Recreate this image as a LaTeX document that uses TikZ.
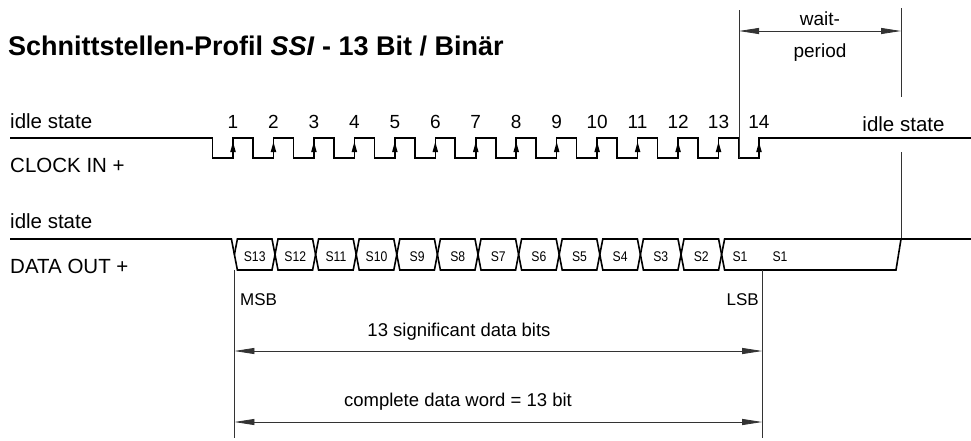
\documentclass[tikz,border=0pt]{standalone}
\usepackage{fontspec}
\setmainfont{Liberation Sans}
\usetikzlibrary{arrows.meta}
\begin{document}
\begin{tikzpicture}[x=1pt,y=-1pt,
  sig/.style={line width=1.6pt, line join=miter},
  thinline/.style={line width=0.8pt, draw=black!80},
  dim/.style={line width=0.8pt, draw=black!80, {Triangle[length=20pt,width=6pt]}-{Triangle[length=20pt,width=6pt]}},
  lbl/.style={font=\fontsize{20.5}{20.5}\selectfont, inner sep=0pt},
  num/.style={font=\fontsize{19}{19}\selectfont, inner sep=0pt},
  small/.style={font=\fontsize{17}{17}\selectfont, inner sep=0pt},
  dimtxt/.style={font=\fontsize{18.5}{18.5}\selectfont, inner sep=0pt},
  celltxt/.style={font=\fontsize{14}{14}\selectfont, inner sep=0pt}]
\useasboundingbox[fill=white] (0,0) rectangle (971,440);

% title
\node[anchor=base west, inner sep=0pt, font=\fontsize{27}{27}\selectfont\bfseries] (title) at (8,55)
  {Schnittstellen-Profil \textit{SSI} - 13 Bit / Binär};

% left labels
\node[lbl, anchor=base west] (idle1) at (10,128) {idle state};
\node[lbl, anchor=base west] (clk) at (10,172) {CLOCK IN +};
\node[lbl, anchor=base west] (idle2) at (10,228) {idle state};
\node[lbl, anchor=base west] (dat) at (10,273) {DATA OUT +};
\node[lbl, anchor=base] (idle3) at (903.5,131) {idle state};

% clock signal
\draw[sig] (10,138) \foreach \k in {1,...,14}{ -- ({233+(\k-1)*40.46-20.5},138) -- ++(0,20) -- ++(20.5,0) -- ++(0,-20)} -- (971,138);
\foreach \k in {1,...,14}{
  \pgfmathsetmacro\rx{233+(\k-1)*40.46}
  \fill (\rx-2.8,152) -- (\rx+2.8,152) -- (\rx,142) -- cycle;
  \node[num, anchor=base] (n\k) at (\rx,128) {\k};
}

% wait period
\coordinate (wa) at (739,10);
\coordinate (wb) at (739,158);
\coordinate (wc) at (901,8);
\coordinate (wd) at (901,97);
\coordinate (we) at (901,152);
\coordinate (wf) at (901,239);
\draw[thinline] (wa) -- (wb);
\draw[thinline] (wc) -- (wd);
\draw[thinline] (we) -- (wf);
\coordinate (wl) at (739,31);
\coordinate (wr) at (901,31);
\draw[dim] (wl) -- (wr);
\node[num, anchor=base] (wait) at (820,25) {wait-};
\node[num, anchor=base] (period) at (820,57) {period};

% data signal
\draw[sig] (10,239) -- (231.4,239) -- (234.4,254.5);
\foreach \j in {1,...,12}{
  \pgfmathsetmacro\ca{234.4+40.6*(\j-1)}
  \pgfmathsetmacro\cb{234.4+40.6*\j}
  \pgfmathtruncatemacro\s{14-\j}
  \draw[sig] (\ca+3,239) -- (\cb-3,239) -- (\cb,254.5) -- (\cb-3,270) -- (\ca+3,270) -- (\ca,254.5) -- cycle;
  \node[celltxt] (s\j) at ({(\ca+\cb)/2},257) {\scalebox{0.87}[1]{S\s}};
}
\draw[sig] (971,239) -- (724.6,239) -- (721.6,254.5) -- (724.6,270) -- (896,270) -- (901,239);
\node[celltxt] (s13a) at (740,257) {\scalebox{0.87}[1]{S1}};
\node[celltxt] (s13b) at (780,257) {\scalebox{0.87}[1]{S1}};

% MSB / LSB
\coordinate (msbt) at (234.4,270);
\coordinate (msbb) at (234.4,438);
\coordinate (lsbt) at (762.2,270);
\coordinate (lsbb) at (762.2,438);
\draw[thinline] (msbt) -- (msbb);
\draw[thinline] (lsbt) -- (lsbb);
\node[small, anchor=base west] (msb) at (240,305) {MSB};
\node[small, anchor=base east] (lsb) at (759,305) {LSB};

\coordinate (a1) at (234.4,351);
\coordinate (b1) at (762.2,351);
\coordinate (a2) at (234.4,422);
\coordinate (b2) at (762.2,422);
\draw[dim] (a1) -- (b1);
\draw[dim] (a2) -- (b2);
\node[dimtxt, anchor=base] (sig13) at (459,336) {13 significant data bits};
\node[dimtxt, anchor=base] (word) at (458,406) {complete data word = 13 bit};
\end{tikzpicture}
\end{document}
